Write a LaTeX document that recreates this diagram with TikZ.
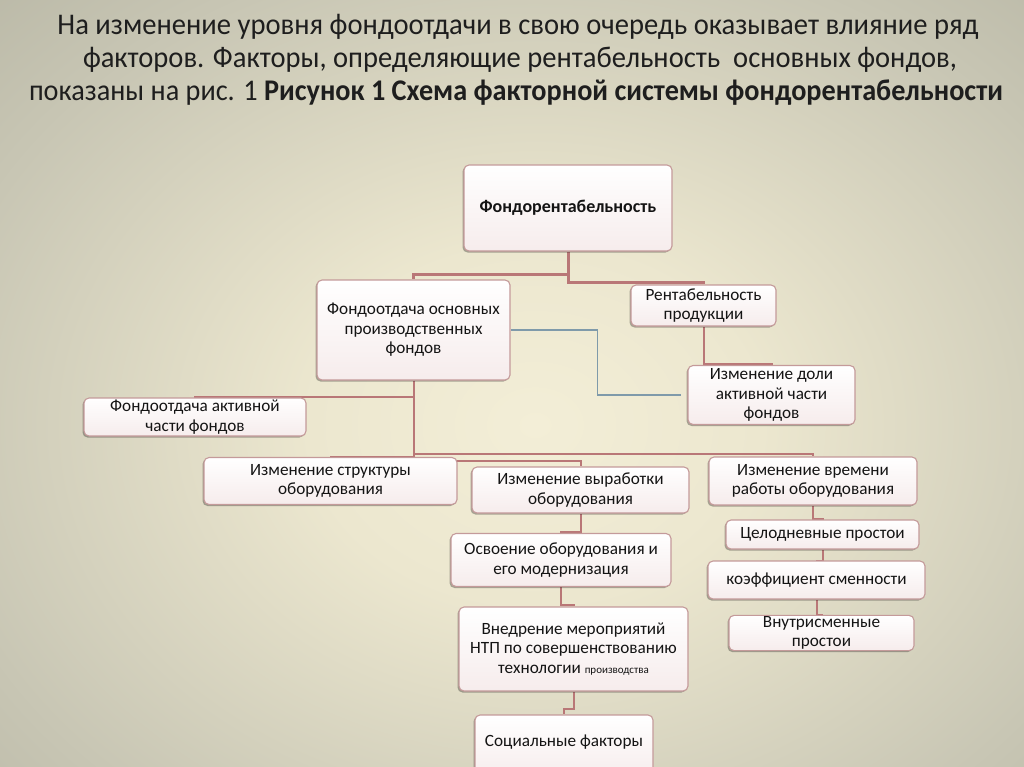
\documentclass[tikz,border=0pt]{standalone}
\usepackage{fontspec}
\usepackage{graphicx}
\setmainfont{Carlito}
\usetikzlibrary{shadows}
\definecolor{bgA}{HTML}{F3EED7}
\definecolor{bgB}{HTML}{ECE7CF}
\definecolor{bgC}{HTML}{C8C6B4}
\definecolor{bgD}{HTML}{AAA998}
\definecolor{bgE}{HTML}{9B9A8B}
\definecolor{boxline}{HTML}{C49A9A}
\definecolor{boxbot}{HTML}{F6ECEC}
\definecolor{conncol}{HTML}{B97777}
\definecolor{bluecol}{HTML}{7F9AAA}
\definecolor{titlecol}{HTML}{1E1E1E}
\pgfdeclareradialshading{bgshade}{\pgfpoint{0bp}{0bp}}{color(0bp)=(bgA); color(10bp)=(bgB); color(27bp)=(bgC); color(44bp)=(bgD); color(71bp)=(bgE)}
\pgfdeclarelayer{bglayer}
\pgfdeclarelayer{lines}
\pgfsetlayers{bglayer,lines,main}
\tikzset{
  box/.style={draw=boxline, line width=1.1pt, rounded corners=5pt,
    top color=white, bottom color=boxbot,
    drop shadow={shadow xshift=-1.5pt, shadow yshift=-1.5pt, opacity=0.3, fill=black},
    align=center, inner sep=1pt, text=black!92,
    font=\fontsize{17.2}{19.5}\selectfont},
  conn/.style={draw=conncol, line width=2pt},
  thickconn/.style={draw=conncol, line width=3pt},
  blueconn/.style={draw=bluecol, line width=1.2pt},
  titleline/.style={text=titlecol, inner sep=0pt, font=\fontsize{30}{33}\selectfont}
}
\begin{document}
\begin{tikzpicture}[x=1pt,y=-1pt]
\useasboundingbox (0,0) rectangle (1024,767);
\clip (0,0) rectangle (1024,767);
\begin{pgfonlayer}{bglayer}
\shade[shading=bgshade] (-30,-20) rectangle (1100,870);
\end{pgfonlayer}

% title
\node[titleline] (t1) at (518,27) {\resizebox{921pt}{\height}{На изменение уровня фондоотдачи в свою очередь оказывает влияние ряд}};
\node[titleline] (t2) at (520,60) {\resizebox{874pt}{\height}{факторов. Факторы, определяющие рентабельность\ \ основных фондов,}};
\node[titleline] (t3) at (516,93) {\resizebox{974pt}{\height}{показаны на рис. 1 \textbf{Рисунок 1 Схема факторной системы фондорентабельности}}};

% boxes
\node[box, minimum width=208pt, minimum height=86pt, font=\fontsize{18}{19}\selectfont\bfseries] (top) at (568,208) {Фондорентабельность};
\node[box, minimum width=193pt, minimum height=100pt] (n2) at (413.5,330) {Фондоотдача основных\\производственных\\фондов};
\node[box, minimum width=145pt, minimum height=41pt] (n3) at (703.5,305.5) {Рентабельность\\продукции};
\node[box, minimum width=167pt, minimum height=59pt] (n4) at (771.5,395) {Изменение доли\\активной части\\фондов};
\node[box, minimum width=222pt, minimum height=38pt] (n5) at (195,417) {Фондоотдача активной\\части фондов};
\node[box, minimum width=253pt, minimum height=47pt] (n6) at (330.5,481) {Изменение структуры\\оборудования};
\node[box, minimum width=217pt, minimum height=46pt] (n7) at (580.5,490) {Изменение выработки\\оборудования};
\node[box, minimum width=208pt, minimum height=48pt] (n8) at (813,481) {Изменение времени\\работы оборудования};
\node[box, minimum width=193pt, minimum height=29pt] (n9) at (822.5,534.5) {Целодневные простои};
\node[box, minimum width=217pt, minimum height=38pt] (n10) at (816.5,580) {коэффициент сменности};
\node[box, minimum width=185pt, minimum height=34pt] (n11) at (821.5,633) {Внутрисменные\\простои};
\node[box, minimum width=220pt, minimum height=53pt] (n12) at (561,560) {Освоение оборудования и\\его модернизация};
\node[box, minimum width=229pt, minimum height=84pt] (n13) at (573.5,649) {Внедрение мероприятий\\НТП по совершенствованию\\технологии {\fontsize{11}{19}\selectfont производства}};
\node[box, minimum width=178pt, minimum height=64pt, text depth=12pt] (n14) at (564,747) {Социальные факторы};

% connectors
\begin{pgfonlayer}{lines}
\draw[thickconn] (top.south) -- ++(0,23) -| (n2.north);
\draw[thickconn] (top.south) -- ++(0,31) -| (n3.north);
\draw[conn] (n3.south) -- ++(0,37) -| (n4.north);
\draw[conn] (n2.south) -- ++(0,16) -| (n5.north);
\draw[conn] (n2.south) -- ++(0,76) -| (n6.north);
\draw[conn] (n2.south) -- ++(0,73) -| (n8.north);
\draw[conn] (n2.south) -- ++(0,80) -| (n7.north);
\draw[conn] (n7.south) -- ++(0,18) -| (n12.north);
\draw[conn] (n12.south) -- ++(0,18) -| (n13.north);
\draw[conn] (n13.south) -- ++(0,17) -| (n14.north);
\draw[conn] (n8.south) -- ++(0,13) -| (n9.north);
\draw[conn] (n9.south) -- ++(0,11) -| (n10.north);
\draw[conn] (n10.south) -- ++(0,15) -| (n11.north);
\draw[blueconn, shorten >=6pt] (n2.east) -- ++(87,0) |- (n4.west);
\end{pgfonlayer}
\end{tikzpicture}
\end{document}
